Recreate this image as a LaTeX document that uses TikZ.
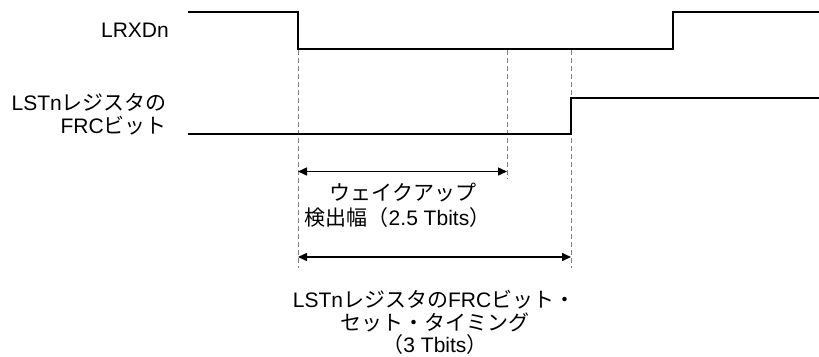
\documentclass[tikz,border=0pt]{standalone}
\usepackage{fontspec}
\setmainfont{Liberation Sans}
\newfontfamily\cjkfont{Noto Sans CJK JP}
\newcommand{\J}[1]{{\cjkfont\fontsize{21}{24}\selectfont #1}}
\usetikzlibrary{arrows.meta}
\begin{document}
\begin{tikzpicture}[x=1pt,y=-1pt,
  sig/.style={line width=2pt,line join=miter},
  guide/.style={line width=1pt,draw=black!50,dash pattern=on 5pt off 3pt},
  dim/.style={line width=1.5pt,{Triangle[length=9pt,width=8pt]}-{Triangle[length=9pt,width=8pt]}},
  lbl/.style={inner sep=0pt,font=\fontsize{21}{24}\selectfont}]
\useasboundingbox (0,0) rectangle (819,356);
% coordinates
\coordinate (a0) at (188,12);
\coordinate (a1) at (298,12);
\coordinate (a2) at (298,49);
\coordinate (a3) at (673,49);
\coordinate (a4) at (673,12);
\coordinate (a5) at (819,12);
\coordinate (b0) at (188,134);
\coordinate (b1) at (571,134);
\coordinate (b2) at (571,98);
\coordinate (b3) at (819,98);
\coordinate (g1t) at (298,50);
\coordinate (g1b) at (298,268);
\coordinate (g2t) at (507,50);
\coordinate (g2b) at (507,179);
\coordinate (g3t) at (571,50);
\coordinate (g3b) at (571,268);
\coordinate (d1l) at (298,171.5);
\coordinate (d1r) at (507,171.5);
\coordinate (d2l) at (298,257);
\coordinate (d2r) at (571,257);
% guides
\draw[guide] (g1t) -- (g1b);
\draw[guide] (g2t) -- (g2b);
\draw[guide] (g3t) -- (g3b);
% signals
\draw[sig] (a0) -- (a1) -- (a2) -- (a3) -- (a4) -- (a5);
\draw[sig] (b0) -- (b1) -- (b2) -- (b3);
% dimension arrows
\draw[dim] (d1l) -- (d1r);
\draw[dim] (d2l) -- (d2r);
% labels
\node[lbl,anchor=base east] (t1) at (169,37.5) {LRXDn};
\node[lbl,anchor=base east] (t2) at (167,110) {LSTn\J{レジスタの}};
\node[lbl,anchor=base east] (t3) at (167,133) {FRC\J{ビット}};
\node[lbl,anchor=base] (m1) at (403,200) {\J{ウェイクアップ}};
\node[lbl,anchor=base] (m2) at (397.5,225.5) {\J{検出幅（}2.5 Tbits\J{）}};
\node[lbl,anchor=base] (n1) at (434,307) {LSTn\J{レジスタの}FRC\J{ビット・}};
\node[lbl,anchor=base] (n2) at (434.5,330) {\J{セット・タイミング}};
\node[lbl,anchor=base] (n3) at (435,352.5) {\J{（}3 Tbits\J{）}};
\end{tikzpicture}
\end{document}
